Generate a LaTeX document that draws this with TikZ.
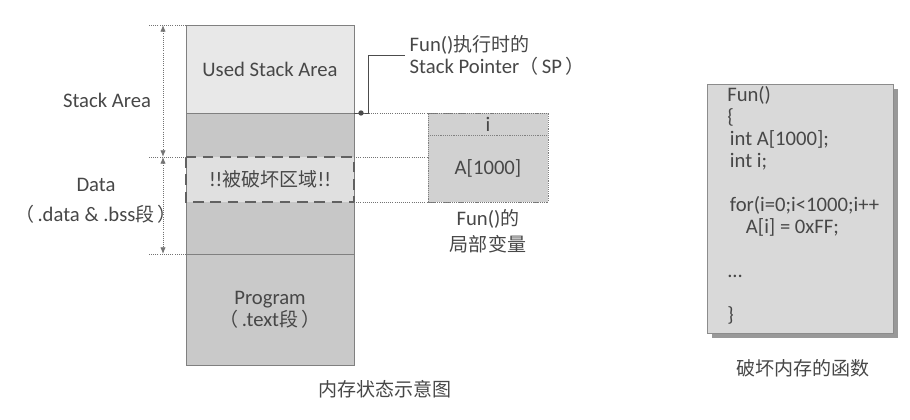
\documentclass[tikz,border=0pt]{standalone}
\usepackage{fontspec}
\setmainfont{Carlito}
\newfontfamily\cjk[Scale=0.92]{Noto Sans CJK SC}
\newcommand\zh[1]{{\cjk #1}}
\usepackage{tikz}
\usetikzlibrary{positioning, calc, arrows.meta, shadows}
\tikzset{
	every node/.append style={
		font=\fontsize{15.5}{16.5}\selectfont,
		text=black!72,
	},
	seg/.append style={
		draw=none,
		align=center,
		minimum width=126pt,
		inner sep=0mm,
		outer sep=0mm,
	},
	frame/.append style={
		draw=black!50,
		line width=0.6pt,
	},
	broken/.append style={
		draw=black!62,
		line width=2pt,
		dash pattern=on 8pt off 5pt,
	},
	guide/.append style={
		draw=black!55,
		line width=0.6pt,
		densely dotted,
	},
	dimline/.append style={
		guide,
		{Latex[length=5pt,width=4pt]}-{Latex[length=5pt,width=4pt]},
	},
	varcell/.append style={
		draw=black!50,
		densely dotted,
		fill=black!18,
		minimum width=90pt,
		inner sep=0mm,
		outer sep=0mm,
	},
	sptrace/.append style={
		draw=black!70,
		line width=0.6pt,
	},
	codebox/.append style={
		draw=black!45,
		fill=black!15,
		minimum width=139.5pt,
		minimum height=186.75pt,
		drop shadow={shadow xshift=3.5pt, shadow yshift=-3.5pt, fill=black!40, opacity=1},
	},
	codetext/.append style={
		align=left,
		inner sep=0mm,
	},
}

\begin{document}
\begin{tikzpicture}[x=0.75pt, y=-0.75pt]
\useasboundingbox (0,0) rectangle (910,420);

% memory column
\node(used)[seg, fill=black!9, minimum height=66pt] at (270,69) {Used Stack Area};
\node(free)[seg, fill=black!22, minimum height=33pt, below = 0pt of used] {};
\node(damaged)[seg, fill=black!12, minimum height=33.75pt, below = 0pt of free] {!!\zh{被破坏区域}!!};
\node(datarest)[seg, fill=black!22, minimum height=39pt, below = 0pt of damaged] {};
\node(prog)[seg, fill=black!21, minimum height=83.25pt, below = 0pt of datarest] {Program\\\zh{（}\,.text\zh{段}\,\zh{）}};

\draw[frame] (used.north west) rectangle (prog.south east);
\draw[frame] (used.south west) -- (used.south east);
\draw[frame] (prog.north west) -- (prog.north east);
\draw[broken] (damaged.north west) rectangle (damaged.south east);

% area marks on the left
\draw[guide] (used.north west) -- ++(-38,0);
\draw[guide] (damaged.north west) -- ++(-38,0);
\draw[guide] (prog.north west) -- ++(-38,0);
\coordinate(dtop) at ($(used.north west)+(-23,0)$);
\coordinate(dmid) at ($(damaged.north west)+(-23,0)$);
\coordinate(dbot) at ($(prog.north west)+(-23,0)$);
\draw[dimline] (dtop) -- (dmid);
\draw[dimline] (dmid) -- (dbot);

\node(stacklbl) at (107,100) {Stack Area};
\node(datalbl)[align=center] at (96,201) {Data\\[6pt]\zh{（}\,.data \& .bss\zh{段}\,\zh{）}};

% local variables of Fun()
\node(icell)[varcell, minimum height=16.5pt] at (488,124) {i};
\node(acell)[varcell, minimum height=50.25pt, below = 0pt of icell] {A[1000]};
\draw[guide] (used.south east) -- (icell.north east);
\draw[guide] (damaged.north east) -- (acell.west |- damaged.north);
\draw[guide] (damaged.south east) -- (acell.south east);
\node(varlbl)[align=center] at (488,231) {Fun()\zh{的}\\[3pt]\zh{局部变量}};

% stack pointer
\node(splbl)[align=left, anchor=west] at (405,55) {Fun()\zh{执行时的}\\Stack Pointer\zh{（}\,SP\,\zh{）}};
\coordinate(spdot) at ($(used.south east)+(7,0)$);
\draw[sptrace] (used.south east) -- (spdot) -- ++(7,0) |- (splbl.west);
\fill[black!70] (spdot) circle (2pt);

\node(memcap) at (385,389) {\zh{内存状态示意图}};

% the function
\node(codebg)[codebox] at (800,208.5) {};
\node(code)[codetext, anchor=north west] at (727,86) {Fun()\\\{\\\hspace{2pt}int A[1000];\\\hspace{2pt}int i;\\~\\\hspace{2pt}for(i=0;i<1000;i++\\\hspace{14pt}A[i] = 0xFF;\\~\\...\\~\\\}};
\node(funcap) at (803,368) {\zh{破坏内存的函数}};

\end{tikzpicture}
\end{document}
